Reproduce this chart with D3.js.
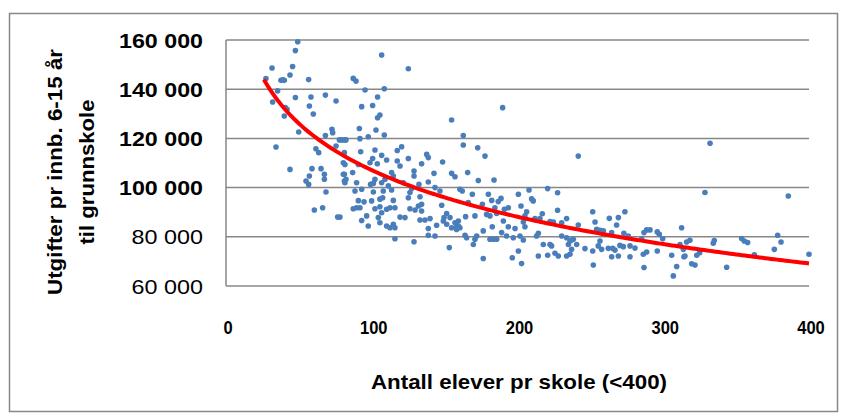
<!DOCTYPE html>
<html><head><meta charset="utf-8">
<script src="https://cdn.jsdelivr.net/npm/d3@7"></script>
<style>
html,body{margin:0;padding:0;background:#fff;}
svg{display:block;}
text{font-family:"Liberation Sans","Arial",sans-serif;fill:#000;}
</style></head>
<body>
<svg id="chart" width="847" height="419"></svg>
<script>
// ---- data (x = pupils per school, y = spending per inhabitant 6-15, in 1000 NOK) ----
const schoolSize = [
49.2,47.6,31.6,45.7,43.9,27.4,37.7,40.0,39.0,56.7,35.4,47.6,58.3,68.2,75.5,32.0,57.2,40.7,41.9,40.0,59.9,72.7,73.2,49.9,68.2,77.8,81.2,34.3,61.7,63.6,75.5,81.2,80.5,43.9,59.0,65.2,67.5,67.5,57.2,54.9,56.7,81.2,81.2,68.6,60.6,66.3,76.6,
106.8,125.1,87.3,89.2,95.4,108.6,104.0,93.1,100.6,105.6,104.0,154.8,91.5,102.9,97.6,108.6,82.3,79.3,91.9,120.5,117.5,92.4,102.2,137.7,138.8,106.8,100.6,98.8,110.2,125.1,117.5,119.4,134.2,148.6,90.8,103.8,81.6,86.9,113.6,114.8,129.0,129.0,142.7,154.8,157.1,80.5,82.3,81.6,89.6,102.2,106.8,109.1,111.4,99.2,101.1,121.7,132.4,138.8,88.5,93.1,101.1,107.9,113.6,126.2,127.4,133.1,143.4,146.8,90.8,94.7,99.9,105.6,107.5,114.8,125.1,134.2,148.0,89.6,87.3,91.9,102.2,105.6,110.2,112.5,115.9,106.8,126.2,129.7,132.0,134.2,151.4,153.7,149.6,78.2,93.1,96.5,97.6,104.5,105.6,110.2,112.5,114.8,115.9,119.4,122.8,133.1,136.5,140.0,144.5,138.8,149.1,151.4,154.8,157.1,159.4,158.2,138.8,143.4,115.9,129.0,153.2,
189.8,162.8,162.8,172.7,177.7,165.8,173.1,183.9,160.5,162.1,169.0,180.0,200.6,207.9,220.7,227.5,209.7,210.8,188.7,182.3,186.8,166.2,175.9,193.7,191.0,202.4,184.5,206.3,205.1,217.0,227.5,159.4,158.2,160.5,164.4,170.8,178.8,181.1,185.7,190.3,193.7,198.3,205.1,204.0,212.0,215.4,222.3,224.6,230.3,233.7,182.7,176.5,189.1,164.0,165.1,172.0,170.8,169.7,181.1,183.4,185.7,192.5,197.1,201.7,204.0,213.1,214.3,230.3,233.7,236.0,234.9,238.3,217.7,222.3,223.4,200.6,196.4,202.8,214.3,220.7,225.7,228.0,233.7,236.0,176.5,
241.7,251.6,273.7,253.2,263.0,269.2,268.0,241.7,254.3,256.6,258.9,264.6,273.0,276.0,288.6,290.9,286.8,295.9,297.3,299.6,312.6,237.1,240.6,256.6,255.4,257.7,270.3,272.6,277.2,280.6,285.2,246.3,251.6,262.3,265.3,266.9,269.2,264.6,277.2,286.3,288.6,295.9,305.8,311.5,313.8,314.2,237.1,252.0,286.8,309.2,306.9,
332.1,328.6,385.8,378.5,380.8,376.2,318.3,316.0,334.3,335.0,353.8,355.6,357.9,323.0,325.0,314.9,362.5,319.5,321.8,343.5,400.0
];
const spending = [
159.3,155.7,148.6,149.2,145.8,144.3,143.6,143.6,143.8,143.9,139.3,136.6,136.8,137.6,135.2,134.8,133.2,132.5,131.8,129.1,129.9,123.7,122.3,122.6,121.2,119.4,119.4,116.5,115.8,114.2,116.9,114.2,110.1,107.4,107.7,107.7,105.4,103.4,104.7,102.7,101.3,105.4,102.7,98.2,90.9,91.8,88.0,
153.9,148.3,144.4,143.3,139.7,140.2,136.8,132.9,133.4,129.5,128.4,127.5,124.0,123.4,120.7,121.4,119.4,119.4,119.9,116.6,115.1,114.6,115.3,113.5,112.2,113.1,111.8,110.1,111.2,111.8,110.8,108.8,109.7,110.4,109.4,109.7,109.4,106.1,106.1,104.7,106.7,104.7,105.8,105.8,104.4,105.4,103.4,102.0,102.0,103.4,102.0,103.4,100.7,101.3,101.7,102.0,101.3,102.3,98.6,99.3,98.2,98.6,99.0,98.0,99.6,96.3,100.0,98.6,94.7,94.2,94.6,95.3,95.9,94.8,95.9,93.2,92.8,91.8,91.4,91.8,91.4,92.2,91.2,91.8,91.8,89.8,91.4,90.9,92.5,90.5,89.5,87.8,87.8,88.0,86.6,88.5,84.4,87.8,85.7,84.4,83.7,85.1,83.7,88.0,87.8,86.8,86.8,87.4,84.7,83.4,86.4,85.1,83.7,85.7,84.4,83.0,80.6,80.3,79.2,78.0,75.6,
132.5,121.2,117.3,116.2,112.8,106.1,102.9,103.1,99.3,98.6,97.3,97.3,97.3,99.0,99.6,97.9,95.4,94.6,95.6,94.8,94.3,93.9,93.2,91.8,91.2,92.5,91.8,90.2,88.5,89.4,90.8,86.4,84.4,83.7,88.2,88.5,89.1,88.5,89.5,86.4,84.1,83.4,84.1,86.0,87.4,87.4,86.2,86.0,85.7,87.4,84.1,82.4,81.7,80.6,79.6,80.3,79.0,76.9,79.0,79.0,79.0,80.3,79.6,80.3,78.7,80.3,81.4,80.3,79.6,78.3,76.9,79.0,76.9,76.9,76.3,74.2,71.5,69.1,72.2,72.5,73.3,72.2,72.2,72.9,71.2,
112.8,90.2,90.2,86.0,87.5,87.8,84.8,84.8,83.0,82.6,82.4,81.7,81.4,80.3,82.8,82.8,81.7,82.0,81.0,79.2,83.7,78.7,76.9,78.3,76.3,74.9,76.5,76.0,76.3,75.4,79.2,75.2,74.2,75.3,75.3,74.6,72.2,71.9,71.9,72.9,73.8,74.2,72.5,76.9,74.9,71.9,74.9,68.5,67.5,67.9,64.1,
118.0,98.0,96.6,80.6,77.9,74.9,78.6,77.9,77.4,78.5,79.3,78.3,77.7,72.5,73.5,72.2,72.7,69.0,68.5,67.6,72.9
];
// logarithmic trendline as shown in the chart: y = a + b*ln(x), x from first to last school size
const trendCoef = [233.1, -27.36];
const trendRange = [26, 400];
const xTicks = [0, 100, 200, 300, 400];
const yTicks = [60, 80, 100, 120, 140, 160];
const yTickLabels = ["60 000", "80 000", "100 000", "120 000", "140 000", "160 000"];
const xTitle = "Antall elever pr skole (<400)";
const yTitleLines = ["Utgifter pr innb. 6-15 år", "til grunnskole"];

// ---- layout ----
const svg = d3.select("#chart");
const plot = {left: 226, right: 809, top: 40, bottom: 286};
const x = d3.scaleLinear().domain([0, 400]).range([plot.left, plot.right]);
const y = d3.scaleLinear().domain([60, 160]).range([plot.bottom, plot.top]);

svg.append("rect").attr("width", 847).attr("height", 419).attr("fill", "#fff");
// outer frame
svg.append("rect").attr("x", 9.5).attr("y", 13.5).attr("width", 828).attr("height", 398)
  .attr("fill", "none").attr("stroke", "#878787").attr("stroke-width", 1.5);

// gridlines
svg.append("g").selectAll("line").data(yTicks).join("line")
  .attr("x1", plot.left).attr("x2", plot.right)
  .attr("y1", d => y(d)).attr("y2", d => y(d))
  .attr("stroke", "#878787").attr("stroke-width", 1.5);
// y axis line
svg.append("line").attr("x1", plot.left).attr("x2", plot.left)
  .attr("y1", plot.top).attr("y2", plot.bottom)
  .attr("stroke", "#878787").attr("stroke-width", 1.5);

// y tick labels
svg.append("g").selectAll("text").data(yTicks).join("text")
  .attr("x", 203).attr("y", d => y(d) + 7.5)
  .attr("text-anchor", "end").attr("font-size", 21)
  .attr("font-weight", d => d >= 100 ? "bold" : "normal")
  .attr("textLength", (d, i) => yTickLabels[i].replace(" ", "").length * 12.6 + 8.4)
  .attr("lengthAdjust", "spacingAndGlyphs")
  .text((d, i) => yTickLabels[i]);

// x tick labels
svg.append("g").selectAll("text").data(xTicks).join("text")
  .attr("x", d => x(d) + 2).attr("y", 334)
  .attr("text-anchor", "middle").attr("font-size", 19).attr("font-weight", "bold")
  .attr("textLength", d => String(d).length * 9.2)
  .attr("lengthAdjust", "spacingAndGlyphs")
  .text(d => d);

// points
svg.append("g").selectAll("circle").data(schoolSize).join("circle")
  .attr("cx", d => x(d)).attr("cy", (d, i) => y(spending[i]))
  .attr("r", 2.8).attr("fill", "#4a7ebb");

// trendline
const trendX = d3.range(trendRange[0], trendRange[1], 2).concat([trendRange[1]]);
svg.append("path").datum(trendX)
  .attr("d", d3.line().x(d => x(d)).y(d => y(trendCoef[0] + trendCoef[1] * Math.log(d))))
  .attr("fill", "none").attr("stroke", "#ff0000").attr("stroke-width", 4);

// titles
svg.append("text").attr("x", 519).attr("y", 389).attr("text-anchor", "middle")
  .attr("font-size", 21).attr("font-weight", "bold")
  .attr("textLength", 296).attr("lengthAdjust", "spacingAndGlyphs").text(xTitle);
const yt = svg.append("g").attr("transform", "translate(62,172) rotate(-90)");
yt.append("text").attr("x", 0).attr("y", 0).attr("text-anchor", "middle")
  .attr("font-size", 21).attr("font-weight", "bold")
  .attr("textLength", 246).attr("lengthAdjust", "spacingAndGlyphs").text(yTitleLines[0]);
yt.append("text").attr("x", 0).attr("y", 32).attr("text-anchor", "middle")
  .attr("font-size", 21).attr("font-weight", "bold")
  .attr("textLength", 145).attr("lengthAdjust", "spacingAndGlyphs").text(yTitleLines[1]);
</script>
</body></html>
